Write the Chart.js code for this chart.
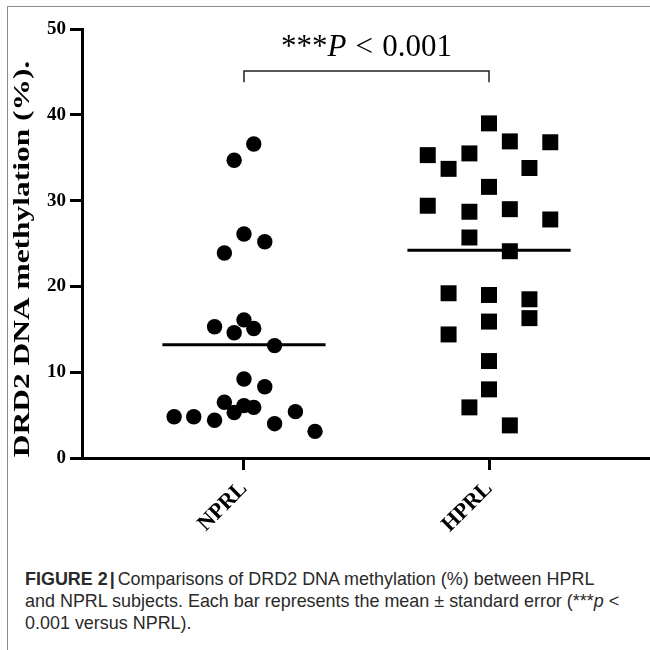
<!DOCTYPE html>
<html>
<head>
<meta charset="utf-8">
<script src="https://cdn.jsdelivr.net/npm/chart.js@4.4.0/dist/chart.umd.min.js"></script>
<style>
  html, body { margin: 0; padding: 0; background: #fff; }
  body { width: 650px; height: 650px; position: relative; overflow: hidden; }
  .frame {
    position: absolute; left: 7px; top: 6px; right: -2px; bottom: -2px;
    border-left: 1px solid #8c8c8c; border-top: 1px solid #8c8c8c;
  }
  .chart-box { position: absolute; left: 0; top: 0; width: 650px; height: 540px; }
  .caption {
    position: absolute; left: 25px; top: 568px;
    font-family: "Liberation Sans", Arial, sans-serif; font-size: 18.5px;
    line-height: 22px; color: #2a2a2a; white-space: nowrap;
    transform: scaleX(0.97); transform-origin: left top;
  }
  .caption b { font-weight: bold; }
  .caption .bar { margin: 0 3px 0 2px; }
</style>
</head>
<body>
<div class="frame"></div>
<div class="chart-box"><canvas id="chart"></canvas></div>
<div class="caption">
  <div><b>FIGURE 2</b><b class="bar">|</b>Comparisons of DRD2 DNA methylation (%) between HPRL</div>
  <div>and NPRL subjects. Each bar represents the mean ± standard error (***<i>p</i> &lt;</div>
  <div>0.001 versus NPRL).</div>
</div>
<script>
// groups on the x axis
const groups = ['NPRL', 'HPRL'];
const groupPos = [1, 2];

// individual subjects (value, horizontal scatter offset in group units)
const nprlValues  = [36.6, 34.7, 26.1, 25.2, 23.9, 16.1, 15.3, 15.1, 14.6, 13.1, 9.2,
                     8.3, 6.5, 6.1, 5.9, 5.3, 4.8, 4.8, 4.4, 5.4, 4.0, 3.1];
const nprlOffsets = [0.04, -0.04, 0, 0.085, -0.08, 0, -0.12, 0.04, -0.04, 0.125, 0,
                     0.085, -0.08, 0, 0.04, -0.04, -0.285, -0.205, -0.12, 0.21, 0.125, 0.29];

const hprlValues  = [39.0, 36.9, 36.8, 35.3, 35.5, 33.7, 33.8, 31.6, 29.4, 28.7, 29.0, 27.8,
                     25.7, 24.1, 19.2, 19.0, 18.5, 16.3, 15.9, 14.4, 11.3, 8.0, 5.9, 3.8];
const hprlOffsets = [0, 0.085, 0.25, -0.25, -0.08, -0.165, 0.165, 0, -0.25, -0.08, 0.085, 0.25,
                     -0.08, 0.085, -0.165, 0, 0.165, 0.165, 0, -0.165, 0, 0, -0.08, 0.085];

// group means (horizontal bars)
const groupMeans = [13.2, 24.2];

const yTicks = [0, 10, 20, 30, 40, 50];
const yTitle = 'DRD2 DNA methylation (%).';

// significance bracket between the two groups
const sigParts = ['***', 'P', ' < ', '0.001'];
const sigBracketY = 45.1;
const sigBracketFoot = 43.8;
const sigTextY = 46.9;

const meanHalfWidth = 0.333;
const serif = '"Liberation Serif", "Times New Roman", serif';

function toPoints(values, offsets, pos) {
    return values.map((v, i) => ({ x: pos + offsets[i], y: v }));
}

const datasets = [
    {
        label: groups[0],
        data: toPoints(nprlValues, nprlOffsets, groupPos[0]),
        pointStyle: 'circle',
        pointRadius: 7.7,
        pointBorderWidth: 0,
        backgroundColor: '#000',
        borderColor: '#000'
    },
    {
        label: groups[1],
        data: toPoints(hprlValues, hprlOffsets, groupPos[1]),
        pointStyle: 'rect',
        pointRadius: 11.3,
        pointBorderWidth: 0,
        backgroundColor: '#000',
        borderColor: '#000'
    }
];

groupMeans.forEach((m, i) => {
    datasets.push({
        label: groups[i] + ' mean',
        data: [{ x: groupPos[i] - meanHalfWidth, y: m }, { x: groupPos[i] + meanHalfWidth, y: m }],
        showLine: true,
        pointRadius: 0,
        borderWidth: 3,
        borderColor: '#000'
    });
});

// Rotated, slightly stretched y axis title
const yTitlePlugin = {
    id: 'yTitle',
    afterDraw(chart) {
        const { ctx, chartArea } = chart;
        ctx.save();
        ctx.translate(29, chartArea.bottom - 199);
        ctx.rotate(-Math.PI / 2);
        ctx.scale(1.31, 1);
        ctx.font = 'bold 24px ' + serif;
        ctx.fillStyle = '#000';
        ctx.textAlign = 'center';
        ctx.textBaseline = 'alphabetic';
        ctx.fillText(yTitle, 0, 0);
        ctx.restore();
    }
};

// Bracket + p value over the groups
const sigPlugin = {
    id: 'sig',
    afterDatasetsDraw(chart) {
        const { ctx, scales: { x, y } } = chart;
        const x1 = x.getPixelForValue(groupPos[0]);
        const x2 = x.getPixelForValue(groupPos[1]);
        const yb = y.getPixelForValue(sigBracketY);
        const yf = y.getPixelForValue(sigBracketFoot);
        ctx.save();
        ctx.strokeStyle = '#222';
        ctx.lineWidth = 1.5;
        ctx.beginPath();
        ctx.moveTo(x1, yf);
        ctx.lineTo(x1, yb);
        ctx.lineTo(x2, yb);
        ctx.lineTo(x2, yf);
        ctx.stroke();

        const fonts = ['31px ' + serif, 'italic 31px ' + serif, '31px ' + serif, '31px ' + serif];
        const gaps = [0, 0, 3, 0];
        let total = 0;
        const widths = sigParts.map((p, i) => {
            ctx.font = fonts[i];
            const w = ctx.measureText(p).width + gaps[i];
            total += w;
            return w;
        });
        let cx = (x1 + x2) / 2 - total / 2;
        const ty = y.getPixelForValue(sigTextY);
        ctx.fillStyle = '#000';
        ctx.textBaseline = 'alphabetic';
        ctx.textAlign = 'left';
        sigParts.forEach((p, i) => {
            ctx.font = fonts[i];
            ctx.fillText(p, cx + gaps[i] / 2, ty);
            cx += widths[i];
        });
        ctx.restore();
    }
};

const axisGrid = {
    drawOnChartArea: false,
    drawTicks: true,
    tickLength: 12,
    lineWidth: 3,
    color: '#000'
};

new Chart(document.getElementById('chart'), {
    type: 'scatter',
    data: { datasets },
    options: {
        responsive: true,
        maintainAspectRatio: false,
        animation: false,
        events: [],
        layout: { autoPadding: false, padding: { top: 29, left: 0, right: 0, bottom: 0 } },
        plugins: {
            legend: { display: false },
            tooltip: { enabled: false }
        },
        scales: {
            x: {
                type: 'linear',
                min: 0.339,
                max: 2.657,
                afterBuildTicks: s => { s.ticks = groupPos.map(v => ({ value: v })); },
                afterFit: s => { s.height = 540 - 458; s.paddingLeft = 0; s.paddingRight = 0; },
                ticks: {
                    callback: v => groups[groupPos.indexOf(v)],
                    minRotation: 45,
                    maxRotation: 45,
                    padding: 6,
                    color: '#000',
                    font: { family: serif, size: 22, weight: 'bold' }
                },
                grid: axisGrid,
                border: { display: true, width: 3, color: '#000' }
            },
            y: {
                min: 0,
                max: 50,
                afterBuildTicks: s => { s.ticks = yTicks.map(v => ({ value: v })); },
                afterFit: s => { s.width = 82; s.paddingTop = 0; s.paddingBottom = 0; },
                ticks: {
                    padding: 4,
                    color: '#000',
                    font: { family: serif, size: 19, weight: 'bold' }
                },
                grid: axisGrid,
                border: { display: true, width: 3, color: '#000' }
            }
        }
    },
    plugins: [yTitlePlugin, sigPlugin]
});
</script>
</body>
</html>
